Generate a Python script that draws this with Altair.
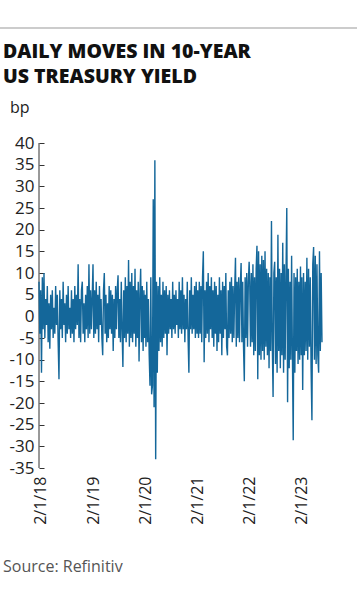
import altair as alt
import pandas as pd

# Daily moves in the 10-year US Treasury yield (bp)
moves_2018 = [8, -4, 6, -13, 9, -3, 10, -5, 4, -2, 7, -6, 3, -7.5, 5, -3, 6, -5, 2, -4,
              7, -2, 5, -6, -14.5, 6, -3, 4, -5, 8, -2, 3, -6, 5, -4, 7, -3, 2, -5, 6,
              -4, 4, -6, 7, -3, 5, -2, 12, -5, 4, -6, 6, 8, -4, 3, -6, 5, -3, 7, -5,
              12, -4, 6, -3, 5]
moves_2019 = [12, -5, 6, -4, 8, -3, 5, -6, 7, -2, 4, -5, -9, 6, 10, -4, 5, -6, 3, -5,
              7, -3, 6, -4, 5, -8, 4, -5, 7, -3, 6, 9.5, -5, 4, -6, 8, -3, -11.7, 6, -5,
              9, -6, 7, -4, 13, -7, 8, -5, 10, -6, 7, -4, 11, -7, 6, -5, 8, -10.4, 5, 11,
              -6, 7, -8, 6, -5]
moves_2020 = [5, -7, 8, -6, 4, -9, -16, 9, -18, -16, 27, -21, 36, -33, 8, -13, 7, -8, 9, -6,
              5, -7, 8, -5, 6, -4, 7, -9, 5, -4, 6, -3, 4, -5, 8, -3, 5, -4, 6, -2,
              4, -5, 8, -3, 6, -4, 9, -3, 5, -6, 4, -3, 8, -5, -13, 6, -3, 9, -4, 5,
              -3, 7, -5, 8, -4]
moves_2021 = [6, -5, 8, -4, 7, -6, 9, 15, -10.6, 6, -5, 8, -4, 10, -6, 7, -3, 9, -5, 6,
              -7, 8, -4, 7, -8, 5, -6, 9, -4, 6, -9, 8, -5, 7, -3, 10, -7, -9, 6, -5,
              8, -4, 9, -6, 7, -5, 6, 13.5, -7, 8, -5, 9, -6, 7, 12.3, -6, 8, -7, -15, 9,
              -5, 10, -7, 8, 12.6]
moves_2022 = [8, -7, 10, -6, 12, -9, 9, -8, 11, 16.3, -14.5, 15, -9, 12, -10, 14, -8, 13, -10, 15,
              -7, 11, -9, 10, -12, 9, -8, 22, -6, -18.6, 10, 12.6, -11, 9, -13, 18.8, -8, 11, -12, 10,
              -9, 17, -13, 12, -10, 9, 25, -19.8, 11, -12, 8, -10, 14, -9, -28.6, 10, -13, 9, -8, 11,
              -11, 8, -10, 11.5, -9]
moves_2023 = [9, -17, 10, -9, 8, -8, 13.5, -10, 11, -7, 9, -12, -24, 12, 16, -10, 14, -11, 12, -9,
              -13, 15, -8, 10, -6]

periods = [("2017-12-20", "2018-12-28", moves_2018),
           ("2019-01-02", "2019-12-30", moves_2019),
           ("2020-01-02", "2020-12-30", moves_2020),
           ("2021-01-04", "2021-12-30", moves_2021),
           ("2022-01-03", "2022-12-30", moves_2022),
           ("2023-01-03", "2023-05-24", moves_2023)]

frames = []
for start, end, vals in periods:
    frames.append(pd.DataFrame({
        "date": pd.date_range(start, end, periods=len(vals)),
        "bp": vals,
    }))
df = pd.concat(frames, ignore_index=True)

tick_years = [2018, 2019, 2020, 2021, 2022, 2023]
y_ticks = list(range(-35, 41, 5))

W, H = 283, 325
PAD_L, PAD_T = 39, 143
FONT = "Open Sans"
BLUE = "#14679a"

one = pd.DataFrame({"k": [0]})

line = alt.Chart(df).mark_line(color=BLUE, strokeWidth=1.4).encode(
    x=alt.X("date:T",
            scale=alt.Scale(nice=False),
            axis=alt.Axis(values=[alt.DateTime(year=y, month=1, date=2) for y in tick_years],
                          format="%-d/%-m/%y", labelAngle=270, domain=False, ticks=False,
                          grid=False, labelPadding=8, labelFontSize=16, labelFont=FONT,
                          labelColor="#222222", title=None)),
    y=alt.Y("bp:Q",
            scale=alt.Scale(domain=[-35, 40], nice=False, zero=False),
            axis=alt.Axis(values=y_ticks, labelExpr="'' + datum.value", domain=False,
                          ticks=True, tickSize=5, offset=-5, tickColor="#333333",
                          grid=False, labelPadding=5, labelFontSize=17, labelFont=FONT,
                          labelColor="#222222", title=None)),
)

axis_line = alt.Chart(one).mark_rule(color="#333333", strokeWidth=1).encode(
    x=alt.value(0), y=alt.value(0), y2=alt.value(H))

top_rule = alt.Chart(one).mark_rule(color="#cccccc", strokeWidth=2).encode(
    x=alt.value(-PAD_L), x2=alt.value(318), y=alt.value(28 - PAD_T))

title1 = alt.Chart(one).mark_text(text="DAILY MOVES IN 10-YEAR", align="left",
                                  baseline="alphabetic", font=FONT, fontSize=19.5,
                                  fontWeight=800, color="#111111").encode(
    x=alt.value(3 - PAD_L), y=alt.value(58 - PAD_T))
title2 = alt.Chart(one).mark_text(text="US TREASURY YIELD", align="left",
                                  baseline="alphabetic", font=FONT, fontSize=19.5,
                                  fontWeight=800, color="#111111").encode(
    x=alt.value(3 - PAD_L), y=alt.value(83 - PAD_T))
unit = alt.Chart(one).mark_text(text="bp", align="left", baseline="alphabetic",
                                font=FONT, fontSize=16, color="#222222").encode(
    x=alt.value(10 - PAD_L), y=alt.value(113 - PAD_T))
source = alt.Chart(one).mark_text(text="Source: Refinitiv", align="left",
                                  baseline="alphabetic", font=FONT, fontSize=16,
                                  color="#555555").encode(
    x=alt.value(3 - PAD_L), y=alt.value(572 - PAD_T))

chart = alt.layer(top_rule, axis_line, line, title1, title2, unit, source).properties(
    width=W, height=H,
    padding={"left": PAD_L, "top": PAD_T, "right": 360 - PAD_L - W, "bottom": 616 - PAD_T - H},
    autosize=alt.AutoSizeParams(type="none"),
    background="white",
).configure_view(stroke=None)

chart.save("out.html", embed_options={"renderer": "svg", "actions": False})
